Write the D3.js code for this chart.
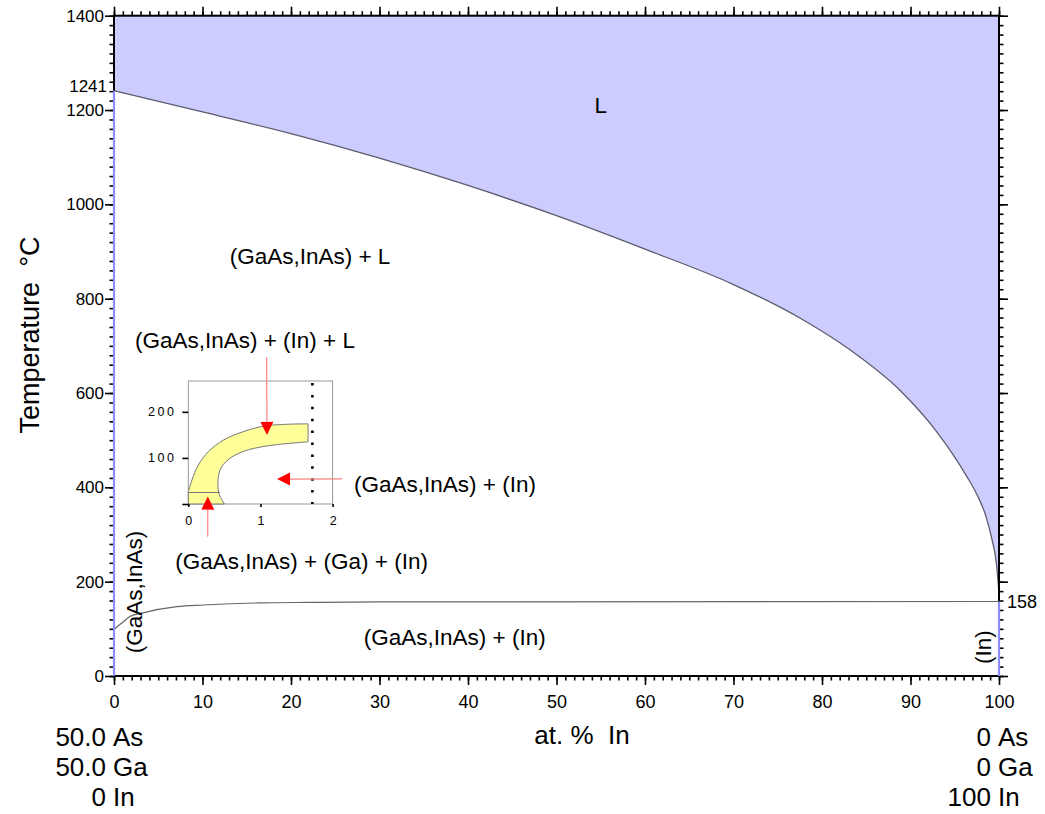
<!DOCTYPE html>
<html lang="en">
<head>
    <meta charset="UTF-8">
    <title>GaAs - InAs - In section</title>
    <script src="https://d3js.org/d3.v7.min.js"></script>
    <style>
        body {
            margin: 0;
            background: #fff;
            font-family: "Liberation Sans", Arial, sans-serif;
        }
        svg text {
            font-family: "Liberation Sans", Arial, sans-serif;
            fill: #000;
        }
        .tick line { stroke: #000; stroke-width: 1.6px; }
        .pre { white-space: pre; }
    </style>
</head>
<body>
    <svg width="1045" height="814"></svg>
    <script>
        // liquidus (at.% In, deg C)
        const liqX = [0, 10, 20, 30, 40, 50, 60, 70, 77.5, 83.2, 88.8, 92.8, 96.3, 97.5, 98.5, 99.2, 99.7, 100];
        const liqT = [1241, 1196, 1150, 1098, 1040, 976, 905, 830, 759, 691, 606, 522, 425, 385, 340, 290, 240, 175];

        // solvus near the bottom
        const solX = [0, 1.05, 1.8, 3.3, 7.1, 10.1, 16.5, 22.1, 30, 100];
        const solT = [99, 115, 126, 134, 147, 150.5, 155, 156, 157, 158];

        // inset band (at.% In 0..2)
        const outX = [0, 0.05, 0.14, 0.28, 0.49, 0.76, 1.09, 1.66];
        const outT = [27, 52, 85, 114, 139, 157, 170, 174];
        const innX = [0.5, 0.43, 0.41, 0.44, 0.55, 0.76, 1.09, 1.66];
        const innT = [0, 20, 45, 74, 96, 114, 126, 135];
        const eutT = 25;     // the horizontal line in the inset
        const dotX = 1.72;   // dotted vertical

        const xTicks = d3.range(0, 101, 10);
        const yTicks = d3.range(0, 1401, 200);
        const insetYTicks = [0, 100, 200];
        const insetXTicks = [0, 1, 2];

        // phase labels: text, at.% In, T (centre)
        const labels = [
            ["L", 55.0, 1211],
            ["(GaAs,InAs) + L", 22.15, 890],
            ["(GaAs,InAs) + (In) + L", 14.8, 712],
            ["(GaAs,InAs) + (In)", 37.4, 407],
            ["(GaAs,InAs) + (Ga) + (In)", 21.2, 243],
            ["(GaAs,InAs) + (In)", 38.5, 83]
        ];
        const vLabels = [
            ["(GaAs,InAs)", 2.26, 178],
            ["(In)", 98.2, 61]
        ];

        const svg = d3.select("svg");
        const x = d3.scaleLinear([0, 100], [114, 999]);
        const y = d3.scaleLinear([0, 1400], [676, 15.7]);

        // inset placed in main-chart coords
        const ix = d3.scaleLinear([0, 2], [x(8.4), x(24.7)]);
        const iy = d3.scaleLinear([0, 267], [y(364.7), y(625.5)]);

        // L region
        const liq = liqX.map((v, i) => [v, liqT[i]]);
        const line = d3.line().x(d => x(d[0])).y(d => y(d[1])).curve(d3.curveMonotoneX);
        const area = d3.area().x(d => x(d[0])).y0(y(1400)).y1(d => y(d[1])).curve(d3.curveMonotoneX);
        svg.append("path").attr("d", area(liq)).attr("fill", "#ccccff");
        svg.append("path").attr("d", line(liq)).attr("fill", "none")
            .attr("stroke", "#5c5c6e").attr("stroke-width", 1.3);

        const sol = solX.map((v, i) => [v, solT[i]]);
        svg.append("path").attr("d", line(sol)).attr("fill", "none")
            .attr("stroke", "#666").attr("stroke-width", 1.2);

        // axes
        function ax(gen, vals, size, fmt, pad) {
            const g = svg.append("g").call(gen.tickValues(vals).tickSize(size).tickPadding(pad || 3).tickFormat(fmt));
            g.select(".domain").remove();
            return g;
        }
        const none = () => "";
        ax(d3.axisBottom(x), d3.range(0, 101, 1), 4.5, none).attr("transform", `translate(0,${y(0)})`);
        ax(d3.axisBottom(x), xTicks, 9, d3.format("d"), 10).attr("transform", `translate(0,${y(0)})`)
            .selectAll("text").attr("font-size", 18);
        ax(d3.axisTop(x), d3.range(0, 101, 1), 4.5, none).attr("transform", `translate(0,${y(1400)})`);
        ax(d3.axisTop(x), xTicks, 9, none).attr("transform", `translate(0,${y(1400)})`);
        ax(d3.axisLeft(y), d3.range(0, 1401, 20), 4.5, none).attr("transform", `translate(${x(0)},0)`);
        ax(d3.axisLeft(y), yTicks, 9, d3.format("d"), 1).attr("transform", `translate(${x(0)},0)`)
            .selectAll("text").attr("font-size", 17);
        ax(d3.axisRight(y), d3.range(0, 1401, 20), 4.5, none).attr("transform", `translate(${x(100)},0)`);
        ax(d3.axisRight(y), yTicks, 9, none).attr("transform", `translate(${x(100)},0)`);

        svg.append("rect")
            .attr("x", x(0)).attr("y", y(1400))
            .attr("width", x(100) - x(0)).attr("height", y(0) - y(1400))
            .attr("fill", "none").attr("stroke", "#000").attr("stroke-width", 2);

        // single phase lines on both sides
        svg.append("line").attr("x1", x(0)).attr("x2", x(0)).attr("y1", y(0)).attr("y2", y(1241))
            .attr("stroke", "#8c8cff").attr("stroke-width", 2.2);
        svg.append("line").attr("x1", x(100)).attr("x2", x(100)).attr("y1", y(0)).attr("y2", y(158))
            .attr("stroke", "#8c8cff").attr("stroke-width", 2.2);

        svg.append("text").attr("x", x(0) - 7).attr("y", y(1241) + 1)
            .attr("text-anchor", "end").attr("font-size", 17).text("1241");
        svg.append("text").attr("x", x(100) + 8).attr("y", y(158)).attr("dy", "0.35em")
            .attr("font-size", 18).text("158");

        // labels
        svg.selectAll(".lab").data(labels).join("text")
            .attr("x", d => x(d[1])).attr("y", d => y(d[2])).attr("dy", "0.35em")
            .attr("text-anchor", "middle").attr("font-size", 22.5).text(d => d[0]);
        svg.selectAll(".vlab").data(vLabels).join("text")
            .attr("transform", d => `translate(${x(d[1])},${y(d[2])}) rotate(-90)`)
            .attr("dy", "0.35em").attr("text-anchor", "middle").attr("font-size", 22.5).text(d => d[0]);

        // axis titles
        svg.append("text").attr("class", "pre").attr("transform", "translate(30,335) rotate(-90)")
            .attr("dy", "0.35em").attr("text-anchor", "middle").attr("font-size", 27).text("Temperature  °C");
        svg.append("text").attr("class", "pre").attr("x", 582).attr("y", 744)
            .attr("text-anchor", "middle").attr("font-size", 26).text("at. %  In");

        // end compositions
        const leftComp = [["50.0", "As"], ["50.0", "Ga"], ["0", "In"]];
        const rightComp = [["0", "As"], ["0", "Ga"], ["100", "In"]];
        const compY = [746, 776, 806];
        function comp(list, xn) {
            list.forEach((c, i) => {
                svg.append("text").attr("x", xn).attr("y", compY[i]).attr("text-anchor", "end")
                    .attr("font-size", 26).text(c[0]);
                svg.append("text").attr("x", xn + 7).attr("y", compY[i])
                    .attr("font-size", 26).text(c[1]);
            });
        }
        comp(leftComp, 106);
        comp(rightComp, 991);

        // ---- inset ----
        const inset = svg.append("g");
        inset.append("rect").attr("x", ix(0)).attr("y", iy(267))
            .attr("width", ix(2) - ix(0)).attr("height", iy(0) - iy(267))
            .attr("fill", "#fff").attr("stroke", "#999").attr("stroke-width", 1);

        const il = d3.line().x(d => ix(d[0])).y(d => iy(d[1])).curve(d3.curveCatmullRom);
        const outer = outX.map((v, i) => [v, outT[i]]);
        const inner = innX.map((v, i) => [v, innT[i]]).reverse();
        const band = `M${ix(0)},${iy(0)}L${ix(0)},${iy(outT[0])}` +
            il(outer).replace(/^M/, "L") + il(inner).replace(/^M/, "L") + "Z";
        inset.append("path").attr("d", band).attr("fill", "#ffff99")
            .attr("stroke", "#777").attr("stroke-width", 1);
        inset.append("line").attr("x1", ix(0)).attr("x2", ix(0.44))
            .attr("y1", iy(eutT)).attr("y2", iy(eutT)).attr("stroke", "#777").attr("stroke-width", 1);
        inset.append("line").attr("x1", ix(dotX)).attr("x2", ix(dotX))
            .attr("y1", iy(267) + 2).attr("y2", iy(0))
            .attr("stroke", "#000").attr("stroke-width", 2.6).attr("stroke-dasharray", "2.5,9.4");

        const iya = inset.append("g").attr("transform", `translate(${ix(0)},0)`)
            .call(d3.axisLeft(iy).tickValues(insetYTicks).tickSize(6).tickPadding(6));
        iya.select(".domain").remove();
        iya.selectAll("line").attr("stroke", "#555").attr("stroke-width", 1);
        iya.selectAll("text").attr("font-size", 12.5).attr("letter-spacing", 2.5).attr("fill", "#333")
            .filter(d => d === 0).remove();
        const ixa = inset.append("g").attr("transform", `translate(0,${iy(0)})`)
            .call(d3.axisBottom(ix).tickValues(insetXTicks).tickFormat(d3.format("d")).tickSize(3).tickPadding(9));
        ixa.select(".domain").remove();
        ixa.selectAll("line").attr("stroke", "#555").attr("stroke-width", 1);
        ixa.selectAll("text").attr("font-size", 12.5).attr("fill", "#333");

        // arrows: tail in main coords, tip in inset coords
        const arrows = [
            [[17.25, 676], [1.09, 150]],
            [[25.76, 418], [1.23, 54]],
            [[10.59, 295], [0.27, 16]]
        ];
        arrows.forEach(a => {
            const x0 = x(a[0][0]), y0 = y(a[0][1]);
            const x1 = ix(a[1][0]), y1 = iy(a[1][1]);
            const ang = Math.atan2(y1 - y0, x1 - x0);
            const L = 13, Wd = 6.5;
            const bx = x1 - L * Math.cos(ang), by = y1 - L * Math.sin(ang);
            svg.append("line").attr("x1", x0).attr("y1", y0).attr("x2", bx).attr("y2", by)
                .attr("stroke", "#ff8080").attr("stroke-width", 1.2);
            const px = -Math.sin(ang) * Wd, py = Math.cos(ang) * Wd;
            svg.append("path")
                .attr("d", `M${x1},${y1}L${bx + px},${by + py}L${bx - px},${by - py}Z`)
                .attr("fill", "#ff0000");
        });
    </script>
</body>
</html>
